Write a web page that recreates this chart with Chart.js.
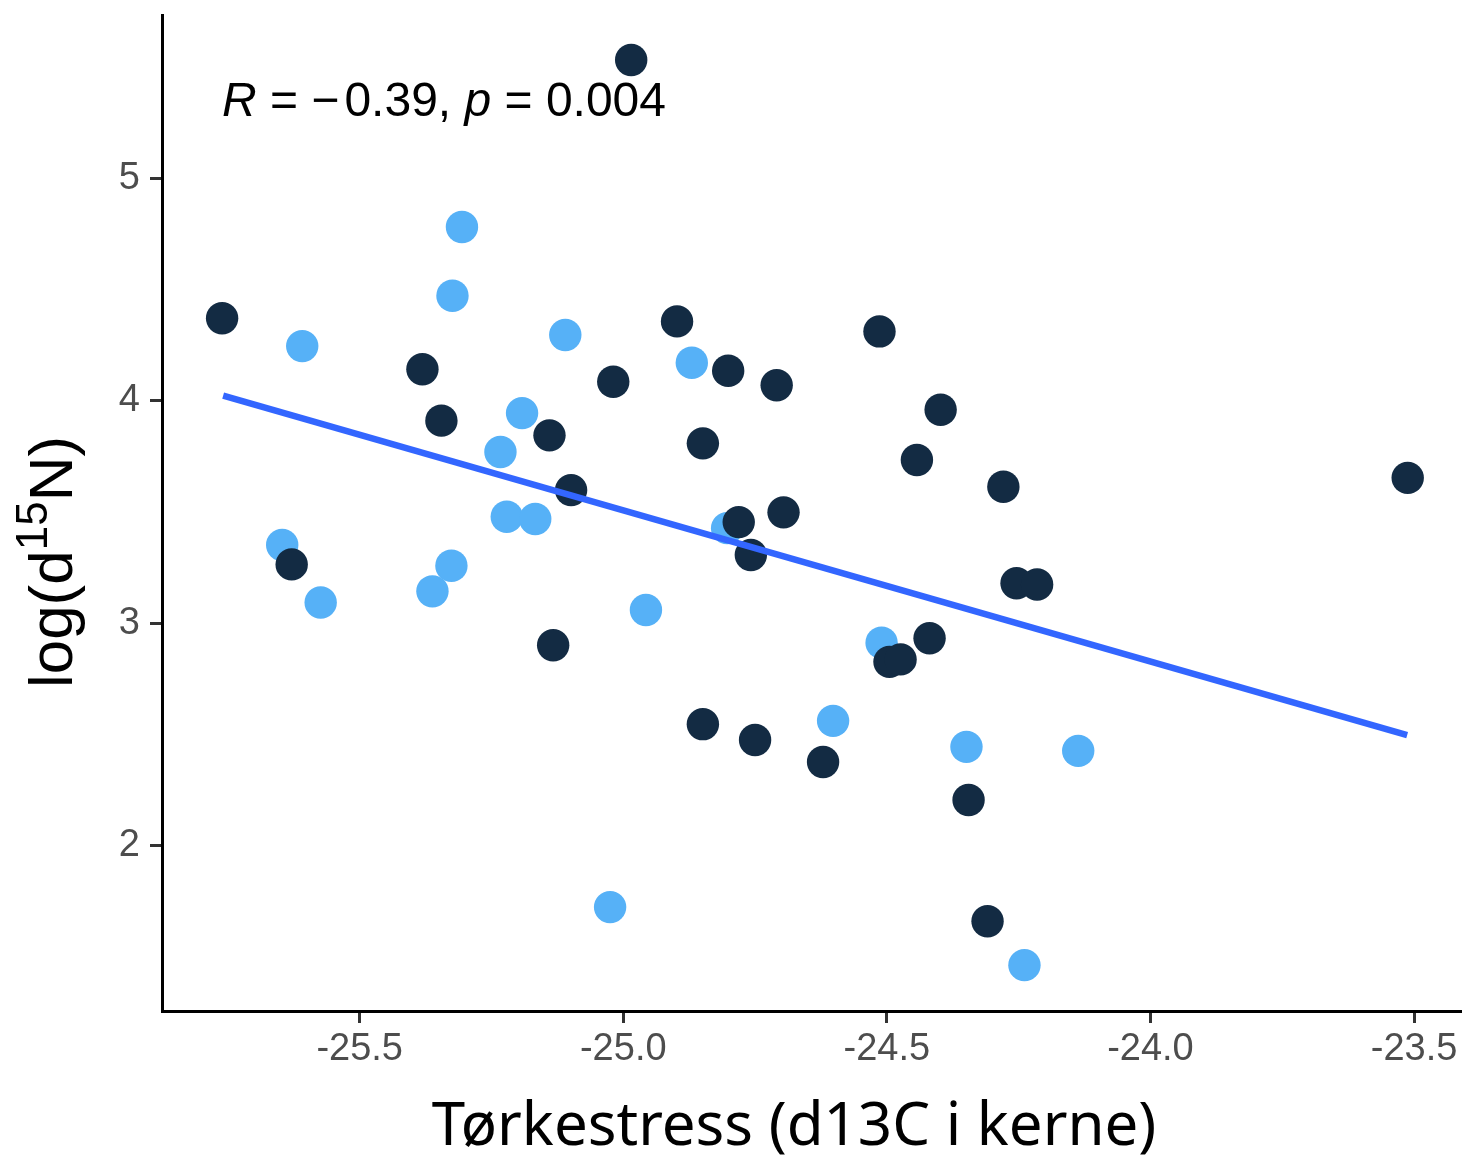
<!DOCTYPE html>
<html>
<head>
<meta charset="utf-8">
<script src="https://cdn.jsdelivr.net/npm/chart.js@4/dist/chart.umd.min.js"></script>
<style>
html,body{margin:0;padding:0;background:#ffffff;}
#wrap{width:1462px;height:1156px;position:relative;}
</style>
</head>
<body>
<div id="wrap"><canvas id="c" width="1462" height="1156"></canvas></div>
<script>
// ---- data ----
const darkX = [-24.985, -25.761, -25.381, -25.345, -25.140, -25.099, -25.133, -25.629, -25.019, -24.898,
               -24.801, -24.709, -24.849, -24.781, -24.758, -24.696, -24.514, -24.398, -24.443, -24.279,
               -24.254, -24.215, -24.419, -24.495, -24.474, -24.849, -24.750, -24.621, -24.345, -24.309,
               -23.512];
const darkY = [5.532, 4.371, 4.142, 3.911, 3.845, 3.599, 2.902, 3.265, 4.086, 4.357,
               4.135, 4.070, 3.809, 3.455, 3.307, 3.499, 4.312, 3.960, 3.734, 3.614,
               3.180, 3.175, 2.933, 2.827, 2.838, 2.547, 2.476, 2.377, 2.206, 1.661,
               3.654];
const lightX = [-25.306, -25.324, -25.609, -25.110, -24.870, -25.192, -25.233, -25.221, -25.167, -25.647,
                -25.326, -25.362, -25.574, -24.957, -24.803, -24.510, -24.602, -24.349, -24.137, -25.025,
                -24.239];
const lightY = [4.781, 4.472, 4.246, 4.296, 4.171, 3.945, 3.770, 3.479, 3.469, 3.352,
                3.259, 3.144, 3.094, 3.060, 3.428, 2.913, 2.562, 2.445, 2.427, 1.725,
                1.464];
const trendX = [-25.759, -23.513];
const trendY = [4.023, 2.498];
const xTicks = [-25.5, -25.0, -24.5, -24.0, -23.5];
const xTickLabels = ["-25.5", "-25.0", "-24.5", "-24.0", "-23.5"];
const yTicks = [2, 3, 4, 5];
const yTickLabels = ["2", "3", "4", "5"];
const xTitle = "Tørkestress (d13C i kerne)";
const yTitleParts = ["log(d", "15", "N)"];
const statParts = [["R", true], [" = ", false], ["\u2212", false], ["0.39, ", false], ["p", true], [" = 0.004", false]];

const toPts = (xs, ys) => xs.map((x, i) => ({x: x, y: ys[i]}));

const textPlugin = {
  id: 'texts',
  afterDraw(chart) {
    const ctx = chart.ctx;
    ctx.save();
    ctx.fillStyle = '#000000';
    // x title
    ctx.font = '60px "Noto Sans"';
    ctx.textAlign = 'center';
    ctx.textBaseline = 'alphabetic';
    ctx.fillText(xTitle, 794, 1145);
    // y title with superscript
    ctx.save();
    ctx.translate(72, 562);
    ctx.rotate(-Math.PI / 2);
    ctx.textAlign = 'left';
    const big = '62px "Liberation Sans", Arial, sans-serif';
    const small = '44px "Liberation Sans", Arial, sans-serif';
    ctx.font = big; const w1 = ctx.measureText(yTitleParts[0]).width;
    ctx.font = small; const w2 = ctx.measureText(yTitleParts[1]).width;
    ctx.font = big; const w3 = ctx.measureText(yTitleParts[2]).width;
    let x0 = -(w1 + w2 + w3) / 2;
    ctx.font = big; ctx.fillText(yTitleParts[0], x0, 0); x0 += w1;
    ctx.font = small; ctx.fillText(yTitleParts[1], x0, -25); x0 += w2;
    ctx.font = big; ctx.fillText(yTitleParts[2], x0, 0);
    ctx.restore();
    // stat annotation
    let sx = 222;
    ctx.textAlign = 'left';
    statParts.forEach(([t, it], i) => {
      ctx.font = (it ? 'italic ' : '') + '48px "Liberation Sans", Arial, sans-serif';
      ctx.fillText(t, sx, 116);
      sx += ctx.measureText(t).width + (i === 2 ? 5 : 0);
    });
    ctx.restore();
  }
};

new Chart(document.getElementById('c'), {
  type: 'scatter',
  data: {
    datasets: [
      {
        type: 'line',
        data: toPts(trendX, trendY),
        borderColor: '#3366FF',
        borderWidth: 6.5,
        pointRadius: 0,
        fill: false,
        order: 0
      },
      {
        data: toPts(darkX, darkY),
        backgroundColor: '#132B43',
        borderColor: '#132B43',
        borderWidth: 0,
        pointRadius: 16.2,
        order: 1
      },
      {
        data: toPts(lightX, lightY),
        backgroundColor: '#56B1F7',
        borderColor: '#56B1F7',
        borderWidth: 0,
        pointRadius: 16.2,
        order: 2
      }
    ]
  },
  options: {
    responsive: false,
    devicePixelRatio: 1,
    animation: false,
    layout: {autoPadding: false, padding: {top: 15, left: 0, right: 0, bottom: 0}},
    plugins: {legend: {display: false}, tooltip: {enabled: false}},
    scales: {
      x: {
        type: 'linear',
        min: -25.875,
        max: -23.409,
        afterBuildTicks: s => { s.ticks = xTicks.map(v => ({value: v})); },
        afterFit: s => { s.height = 145; s.paddingLeft = 0; s.paddingRight = 0; },
        ticks: {
          callback: (v, i) => xTickLabels[i],
          color: '#4D4D4D',
          font: {family: '"Liberation Sans", Arial, sans-serif', size: 38},
          padding: 4,
          maxRotation: 0,
          autoSkip: false
        },
        grid: {display: true, drawOnChartArea: false, drawTicks: true, tickLength: 12, color: '#333333', lineWidth: 3},
        border: {display: true, color: '#000000', width: 3}
      },
      y: {
        type: 'linear',
        min: 1.258,
        max: 5.734,
        afterBuildTicks: s => { s.ticks = yTicks.map(v => ({value: v})); },
        afterFit: s => { s.width = 162; s.paddingTop = 0; s.paddingBottom = 0; },
        ticks: {
          callback: (v, i) => yTickLabels[i],
          color: '#4D4D4D',
          font: {family: '"Liberation Sans", Arial, sans-serif', size: 38},
          padding: 10,
          autoSkip: false
        },
        grid: {display: true, drawOnChartArea: false, drawTicks: true, tickLength: 12, color: '#333333', lineWidth: 3},
        border: {display: true, color: '#000000', width: 3}
      }
    }
  },
  plugins: [textPlugin]
});
</script>
</body>
</html>
